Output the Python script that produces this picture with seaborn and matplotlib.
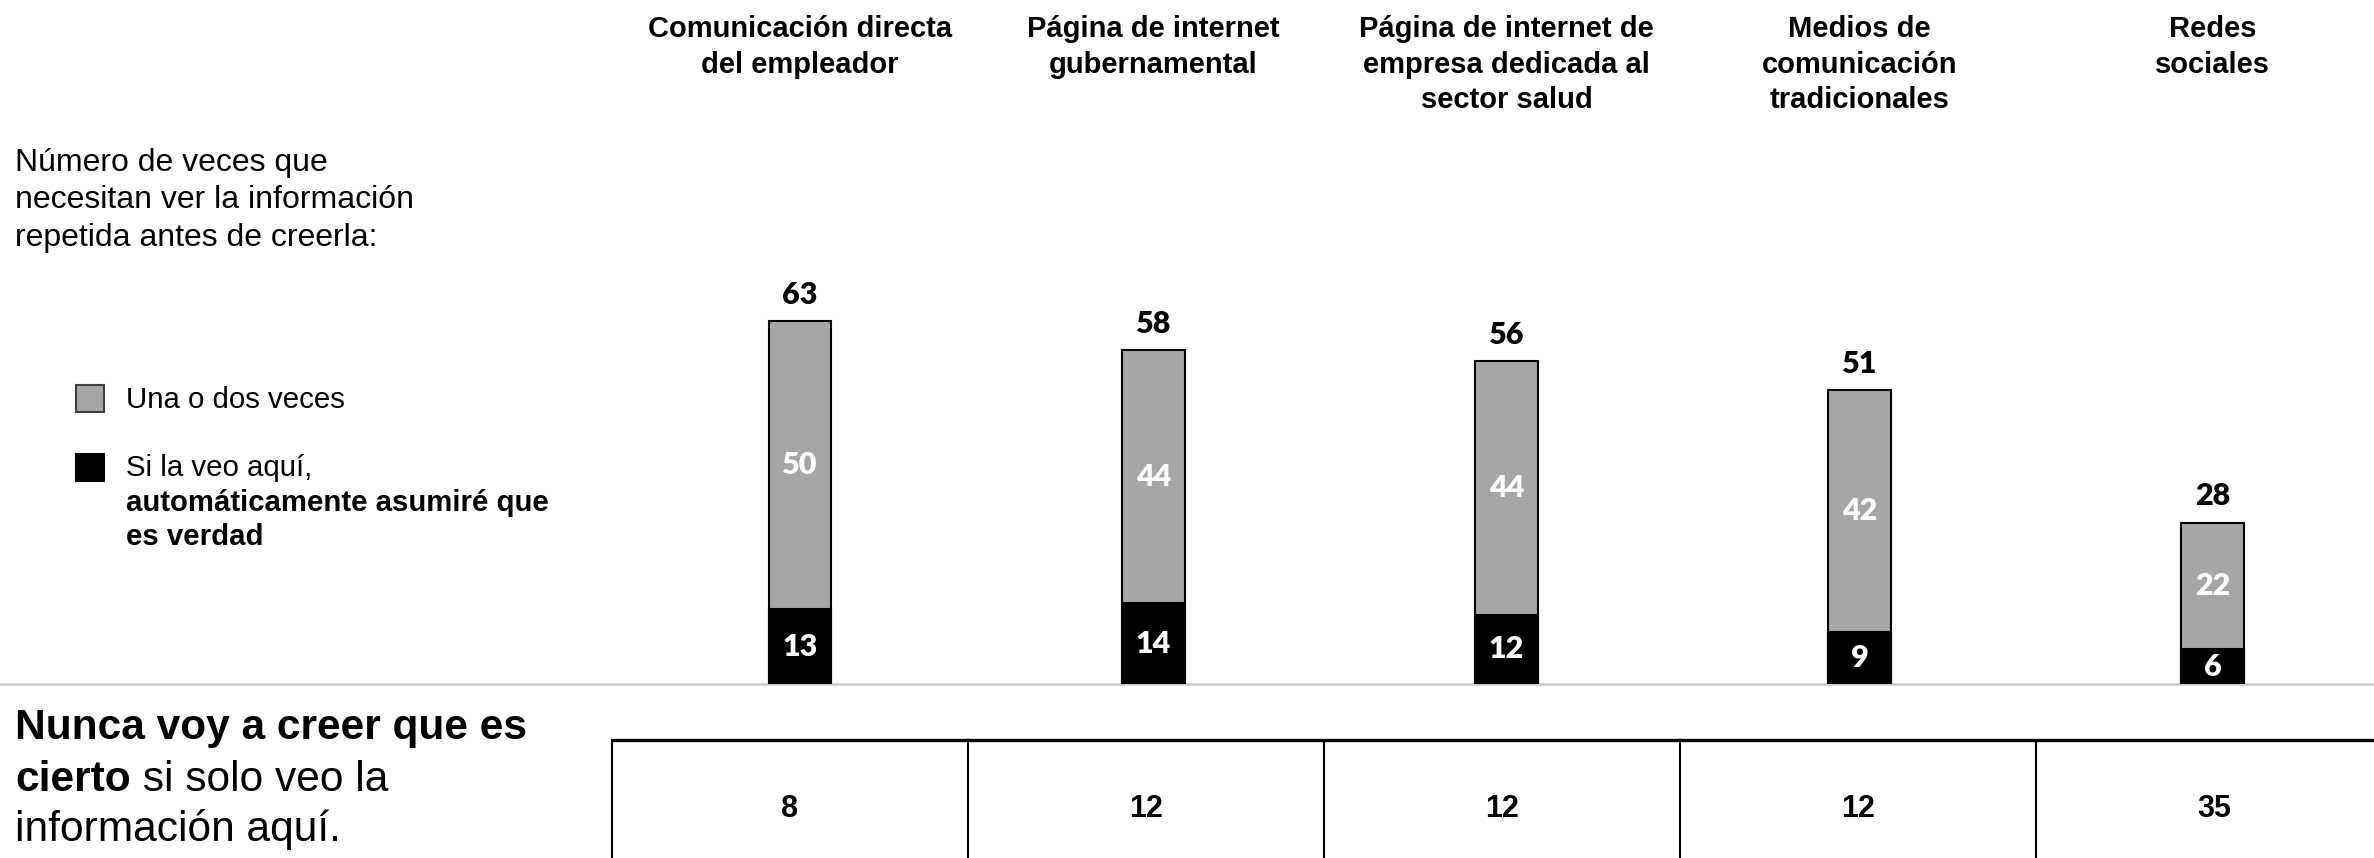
import pandas as pd
import matplotlib.pyplot as plt
import seaborn as sns
from matplotlib.lines import Line2D
from matplotlib.patches import Rectangle
import matplotlib.transforms as mtransforms

# Datos
categorias = ["Comunicación directa\ndel empleador",
              "Página de internet\ngubernamental",
              "Página de internet de\nempresa dedicada al\nsector salud",
              "Medios de\ncomunicación\ntradicionales",
              "Redes\nsociales"]
una_o_dos = [50, 44, 44, 42, 22]
automatico = [13, 14, 12, 9, 6]
totales = [63, 58, 56, 51, 28]
nunca = [8, 12, 12, 12, 35]

df = pd.DataFrame({'cat': categorias, 'una': una_o_dos, 'auto': automatico,
                   'total': totales, 'nunca': nunca})

sns.set_style('white')
plt.rcParams['font.family'] = ['Liberation Sans', 'DejaVu Sans']
plt.rcParams['text.color'] = 'black'

GRIS = '#a6a6a6'
fig = plt.figure(figsize=(23.74, 8.58), dpi=100)
ax = fig.add_axes([0.2626, 0.2028, 0.7439, 0.537])

# barra completa (gris) y parte inferior (negra) encima
sns.barplot(data=df, x='cat', y='total', color=GRIS, saturation=1, width=0.178,
            edgecolor='black', linewidth=1.5, errorbar=None, ax=ax)
sns.barplot(data=df, x='cat', y='auto', color='black', saturation=1, width=0.178,
            edgecolor='black', linewidth=1.5, errorbar=None, ax=ax)

ax.set_xlim(-0.5, 4.5)
ax.set_ylim(0, 80)
ax.set_axis_off()
ax.patch.set_visible(False)

num_font = ['Lato', 'DejaVu Sans']
for i, row in df.iterrows():
    ax.annotate(str(row['total']), (i, row['total']), xytext=(0, 19),
                textcoords='offset points', ha='center', va='center',
                fontsize=22, fontweight='heavy', family=num_font)
    ax.text(i, row['auto'] + row['una'] / 2, str(row['una']), ha='center', va='center',
            color='white', fontsize=22, fontweight='heavy', family=num_font)
    ax.text(i, row['auto'] / 2, str(row['auto']), ha='center', va='center',
            color='white', fontsize=22, fontweight='heavy', family=num_font)

# encabezados de columnas
trans = mtransforms.blended_transform_factory(ax.transData, fig.transFigure)
for i, c in enumerate(categorias):
    ax.text(i, 0.982, c, transform=trans, ha='center', va='top',
            fontsize=21, fontweight='bold', linespacing=1.33)

# linea base gris
fig.add_artist(Line2D([0, 1], [0.2028, 0.2028], color='#c8cccc', lw=1.8, zorder=-1))

# tabla inferior "nunca" en su propio eje
tab = fig.add_axes([612 / 2374, 0, 1780 / 2374, 0.1375])
tab.set_xlim(-0.5, 4.5)
tab.set_ylim(0, 1)
tab.set_axis_off()
tab.axhline(1, color='black', lw=2.4, clip_on=False)
for i, v in enumerate(nunca):
    tab.axvline(i - 0.5, color='black', lw=1.5, clip_on=False)
    tab.text(i, 0.415, str(v), ha='center', va='center', fontsize=22, fontweight='bold')

# texto izquierdo
fig.text(0.0063, 1 - 148 / 858, "Número de veces que\nnecesitan ver la información\nrepetida antes de creerla:",
         ha='left', va='top', fontsize=23, linespacing=1.32)

# leyenda
fig.add_artist(Rectangle((76 / 2374, 1 - 412 / 858), 28 / 2374, 27 / 858,
                         facecolor=GRIS, edgecolor='#404040', lw=1.5))
fig.add_artist(Rectangle((76 / 2374, 1 - 481 / 858), 28 / 2374, 27 / 858,
                         facecolor='black', edgecolor='black', lw=1.5))
fig.text(126 / 2374, 1 - 400 / 858, "Una o dos veces", ha='left', va='center', fontsize=21.2)
fig.text(126 / 2374, 1 - 468 / 858, "Si la veo aquí,", ha='left', va='center', fontsize=21.2)
fig.text(126 / 2374, 1 - 503 / 858, "automáticamente asumiré que", ha='left', va='center',
         fontsize=21.2, fontweight='bold')
fig.text(126 / 2374, 1 - 537 / 858, "es verdad", ha='left', va='center',
         fontsize=21.2, fontweight='bold')

# texto inferior izquierdo
fig.text(0.0063, 1 - 728 / 858, "Nunca voy a creer que es", ha='left', va='center',
         fontsize=30.6, fontweight='bold')
t = fig.text(0.0063, 1 - 780 / 858, "cierto", ha='left', va='center',
             fontsize=30.6, fontweight='bold')
ax.annotate(" si solo veo la", xy=(1, 0.5), xycoords=t, ha='left', va='center', fontsize=30.6)
fig.text(0.0063, 1 - 830 / 858, "información aquí.", ha='left', va='center', fontsize=30.6)

fig.savefig('out.png', dpi=100)
